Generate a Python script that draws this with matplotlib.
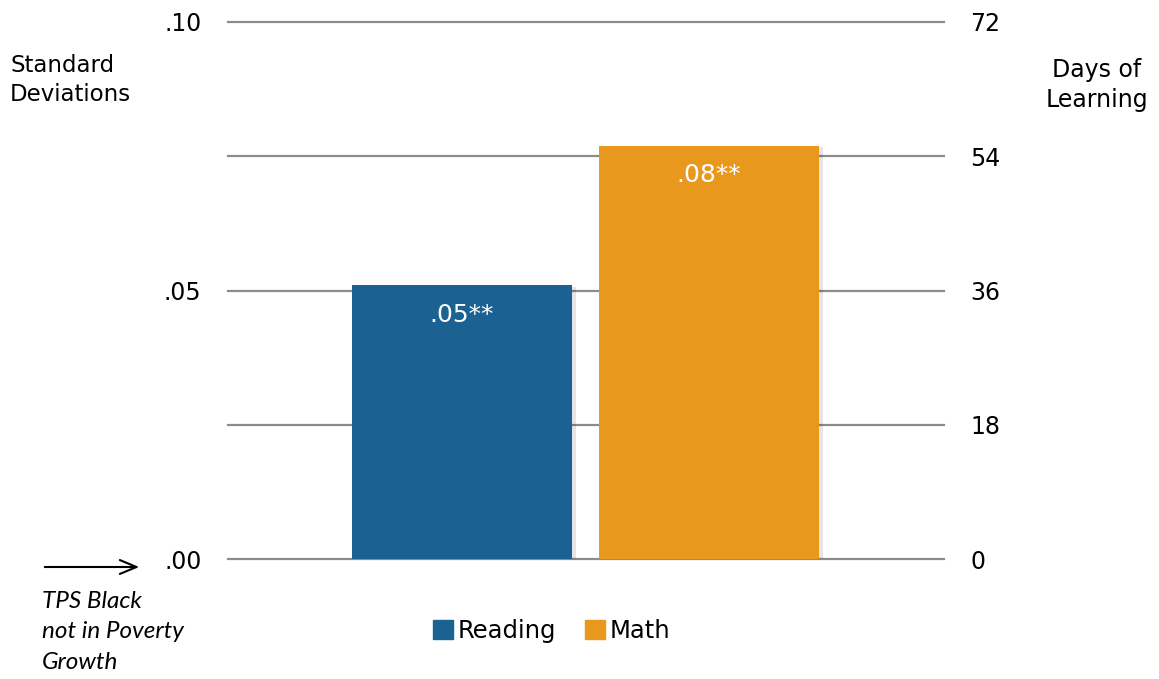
import matplotlib.pyplot as plt
import matplotlib.patheffects as pe
from matplotlib.patches import FancyArrowPatch

subjects = ["Reading", "Math"]
effect_sd = [0.051, 0.077]
significance = ["**", "**"]
colors = ["#1B6191", "#E8981D"]

sd_ticks = [0.0, 0.025, 0.05, 0.075, 0.10]
sd_labels = [".00", "", ".05", "", ".10"]
day_ticks = [0, 18, 36, 54, 72]

fig = plt.figure(figsize=(11.59, 6.79), dpi=100)
ax = fig.add_axes([0.1967, 0.1767, 0.6178, 0.7909])

# horizontal guide lines, unclipped so the top and bottom ones keep full width
for y in sd_ticks:
    ax.axhline(y, color="#8C8C8C", linewidth=1.6, zorder=1, clip_on=False)

positions = [0, 1]
bars = ax.bar(positions, effect_sd, width=0.89, color=colors, zorder=3)
for bar in bars:
    bar.set_path_effects([
        pe.SimplePatchShadow(offset=(3, -1), shadow_rgbFace="#000000", alpha=0.10),
        pe.Normal(),
    ])

for bar, value, stars in zip(bars, effect_sd, significance):
    label = f"{value:.2f}".lstrip("0") + stars
    ax.text(bar.get_x() + bar.get_width() / 2, value - 0.0055, label,
            ha="center", va="center", color="white", fontsize=18, zorder=4)

ax.set_xlim(-0.947, 1.951)
ax.set_ylim(0, 0.10)
ax.set_yticks(sd_ticks)
ax.set_yticklabels(sd_labels, fontsize=17)
ax.set_xticks([])
ax.tick_params(axis="y", length=0, pad=19)
for side in ["top", "right", "bottom", "left"]:
    ax.spines[side].set_visible(False)

# right-hand scale: days of learning
ax2 = ax.twinx()
ax2.set_ylim(0, 72)
ax2.set_yticks(day_ticks)
ax2.set_yticklabels([str(d) for d in day_ticks], fontsize=17)
ax2.tick_params(axis="y", length=0, pad=19)
for side in ["top", "right", "bottom", "left"]:
    ax2.spines[side].set_visible(False)

fig.text(10 / 1159, 1 - 80 / 679, "Standard\nDeviations", fontsize=16.5,
         ha="left", va="center", linespacing=1.3)
fig.text(1097 / 1159, 1 - 85 / 679, "Days of\nLearning", fontsize=17,
         ha="center", va="center", linespacing=1.3)

# baseline pointer and note
fig.patches.append(FancyArrowPatch(
    (42 / 1159, 1 - 567 / 679), (142 / 1159, 1 - 567 / 679),
    transform=fig.transFigure, arrowstyle="->,head_length=12,head_width=5",
    color="black", linewidth=1.5, mutation_scale=1))
fig.text(42 / 1159, 1 - 632 / 679, "TPS Black\nnot in Poverty\nGrowth",
         fontsize=17.5, fontstyle="italic", family="Lato",
         ha="left", va="center", linespacing=1.55)

handles = [plt.Rectangle((0, 0), 1, 1, color=c) for c in colors]
fig.legend(handles, subjects, loc="center", bbox_to_anchor=(0.476, 1 - 631 / 679),
           ncol=2, frameon=False, fontsize=17.5, handlelength=0.8, handleheight=0.8,
           handletextpad=0.2, columnspacing=1.2)

fig.savefig("out.png", dpi=100)
